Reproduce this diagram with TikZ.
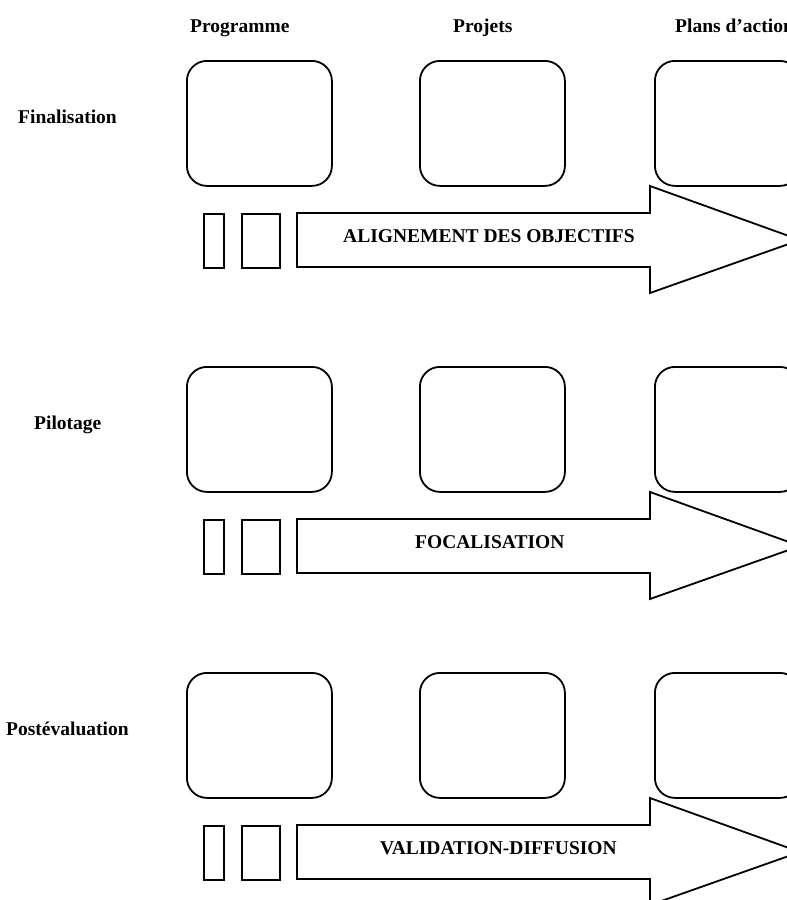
\documentclass[tikz,border=0pt]{standalone}
\usepackage{fontspec}
\setmainfont{Liberation Serif}
\begin{document}
\begin{tikzpicture}[x=1pt,y=-1pt,
  lbl/.style={font=\fontsize{19.5}{23}\selectfont\bfseries, inner sep=0pt, anchor=base west},
  rbox/.style={draw, line width=1.8pt, rounded corners=20pt, minimum width=145pt, minimum height=125pt, inner sep=0pt, anchor=north west},
  sbox/.style={draw, line width=1.8pt, inner sep=0pt, minimum height=54pt, anchor=north west},
  arr/.style={draw, line width=1.8pt, line join=miter}]
\useasboundingbox (0,0) rectangle (787,900);
\clip (0,0) rectangle (787,900);
% headers
\node[lbl] (hprog) at (190,32) {Programme};
\node[lbl] (hproj) at (453,32) {Projets};
\node[lbl] (hplan) at (675,32) {Plans d’action};
% row labels
\node[lbl] (l1) at (18,123) {Finalisation};
\node[lbl] (l2) at (34,429) {Pilotage};
\node[lbl] (l3) at (6,735) {Postévaluation};
\foreach \r/\t/\tx in {0/ALIGNEMENT DES OBJECTIFS/343, 1/FOCALISATION/415, 2/VALIDATION-DIFFUSION/380} {
  \pgfmathsetmacro{\dy}{306*\r}
  \begin{scope}[yshift=-\dy pt]
    \node[rbox] (a\r) at (186,60) {};
    \node[rbox] (b\r) at (419,60) {};
    \node[rbox] (c\r) at (654,60) {};
    \node[sbox, minimum width=20pt] (s\r) at (203,213) {};
    \node[sbox, minimum width=38pt] (t\r) at (241,213) {};
    \coordinate (p1\r) at (297,213);
    \coordinate (p2\r) at (650,213);
    \coordinate (p3\r) at (650,186);
    \coordinate (tip\r) at (800,240);
    \coordinate (p4\r) at (650,293);
    \coordinate (p5\r) at (650,267);
    \coordinate (p6\r) at (297,267);
    \draw[arr] (p1\r) -- (p2\r) -- (p3\r) -- (tip\r) -- (p4\r) -- (p5\r) -- (p6\r) -- cycle;
    \node[lbl] (txt\r) at (\tx,242) {\t};
  \end{scope}
}
\end{tikzpicture}
\end{document}
